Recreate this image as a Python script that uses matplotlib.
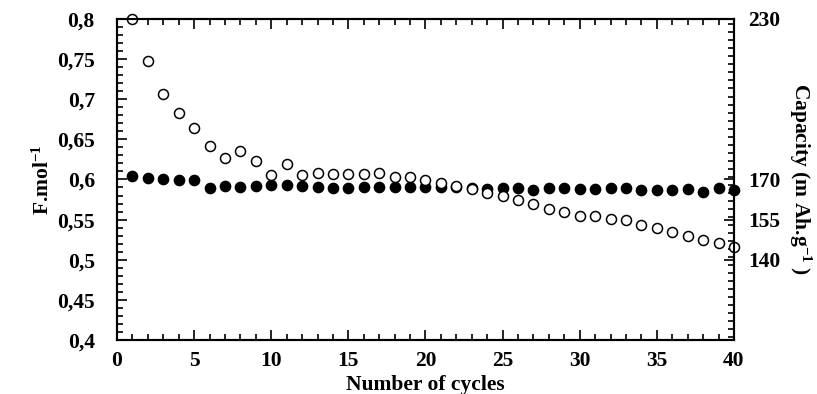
import numpy as np
import matplotlib
matplotlib.use("Agg")
import matplotlib.pyplot as plt
from matplotlib.ticker import MultipleLocator, FixedLocator, FuncFormatter

plt.rcParams['font.family'] = ['Liberation Serif', 'DejaVu Serif']
plt.rcParams['font.weight'] = 'bold'
plt.rcParams['mathtext.fontset'] = 'custom'
plt.rcParams['mathtext.rm'] = 'Liberation Serif:bold'
plt.rcParams['mathtext.bf'] = 'Liberation Serif:bold'
plt.rcParams['mathtext.default'] = 'bf'

# cycle numbers
cycles = np.arange(1, 41)

# F.mol-1 per cycle (filled symbols)
f_mol = [0.6045, 0.602, 0.601, 0.599, 0.599, 0.5895, 0.5917, 0.591, 0.5917, 0.5925,
         0.5925, 0.5917, 0.591, 0.5895, 0.5895, 0.591, 0.591, 0.591, 0.590, 0.590,
         0.590, 0.590, 0.5892, 0.5883, 0.5888, 0.5892, 0.5867, 0.5892, 0.5888, 0.5879,
         0.5879, 0.5888, 0.5888, 0.5875, 0.5867, 0.5867, 0.5879, 0.5842, 0.5888, 0.5867]

# discharge capacity in mAh/g (open symbols)
capacity = [230.0, 214.4, 201.8, 194.9, 189.2, 182.6, 178.0, 180.5, 176.9, 171.7,
            175.6, 171.5, 172.6, 172.1, 171.9, 172.1, 172.6, 170.9, 170.8, 169.7,
            168.5, 167.5, 166.6, 164.8, 163.9, 162.3, 160.8, 159.1, 157.7, 156.3,
            156.3, 155.4, 154.8, 152.9, 151.7, 150.4, 148.8, 147.3, 146.3, 144.8]

left_ticks = [0.4, 0.45, 0.5, 0.55, 0.6, 0.65, 0.7, 0.75, 0.8]
right_ticks = [140, 155, 170, 230]


def comma(v, pos):
    s = ('%.2f' % v).rstrip('0').rstrip('.')
    return s.replace('.', ',')


fig = plt.figure(figsize=(8.17, 3.94), dpi=100)
ax = fig.add_axes([0.1432, 0.137, 0.7552, 0.815])
ax2 = ax.twinx()

ax.plot(cycles, f_mol, 'o', color='black', markersize=7.4, clip_on=False, zorder=3)
ax2.plot(cycles, capacity, 'o', markerfacecolor='white', markeredgecolor='black',
         markeredgewidth=1.1, markersize=7.2, clip_on=False, zorder=2)

ax.set_xlim(0, 40)
ax.set_ylim(0.4, 0.8)
ax2.set_ylim(110, 230)

ax.xaxis.set_major_locator(MultipleLocator(5))
ax.xaxis.set_minor_locator(MultipleLocator(1))
ax.yaxis.set_major_locator(FixedLocator(left_ticks))
ax.yaxis.set_minor_locator(MultipleLocator(0.01))
ax.yaxis.set_major_formatter(FuncFormatter(comma))
ax2.yaxis.set_major_locator(FixedLocator(right_ticks))
ax2.yaxis.set_minor_locator(MultipleLocator(3))

ax.tick_params(axis='both', which='both', direction='in', top=True, width=1.2,
               labelsize=15.5)
ax.tick_params(which='major', length=7)
ax.tick_params(which='minor', length=4)
ax.tick_params(axis='y', right=False)
ax.tick_params(axis='y', pad=16)
ax.tick_params(axis='x', pad=8)
ax2.tick_params(axis='y', which='both', direction='in', width=1.2, labelsize=15.5, pad=10)
ax2.tick_params(which='major', length=7)
ax2.tick_params(which='minor', length=4)

for a in (ax, ax2):
    for sp in a.spines.values():
        sp.set_linewidth(1.5)

ax.set_xlabel('Number of cycles', fontsize=15.5, fontweight='bold', labelpad=3)
ax.set_ylabel('F.mol$^{-1}$', fontsize=15.5, fontweight='bold', labelpad=2)
ax2.set_ylabel('Capacity (m Ah.g$^{-1}$ )', fontsize=15.5, fontweight='bold',
               rotation=-90, labelpad=24)

fig.savefig('out.png', dpi=100)
